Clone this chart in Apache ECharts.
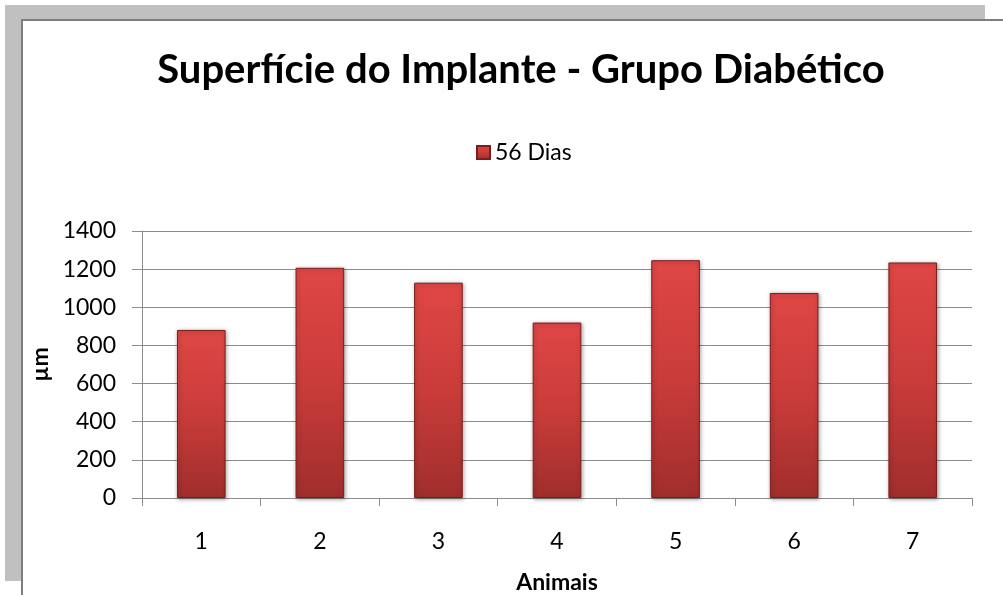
<!DOCTYPE html>
<html>
<head>
<meta charset="utf-8">
<script src="https://cdn.jsdelivr.net/npm/echarts@6/dist/echarts.min.js"></script>
<style>
  html, body { margin: 0; padding: 0; background: #fff; }
  #chart { width: 1003px; height: 595px; }
</style>
</head>
<body>
<div id="chart"></div>
<script>
// data
const animais = ['1', '2', '3', '4', '5', '6', '7'];
const dias56 = [881, 1207, 1129, 920, 1247, 1075, 1235];
const yTicks = { min: 0, max: 1400, step: 200 };

const chart = echarts.init(document.getElementById('chart'));

const barFill = new echarts.graphic.LinearGradient(0, 0, 0, 1, [
  { offset: 0, color: '#df4745' },
  { offset: 0.5, color: '#c93c3a' },
  { offset: 1, color: '#a02e2c' }
]);

const option = {
  animation: false,
  backgroundColor: '#ffffff',
  graphic: [
    // grey frame behind the panel
    { type: 'rect', z: -10, shape: { x: 5, y: 5, width: 980, height: 576 }, style: { fill: '#c0c0c0' } },
    { type: 'rect', z: -9, shape: { x: 22, y: 20, width: 1000, height: 600 },
      style: { fill: '#ffffff', stroke: '#7f7f7f', lineWidth: 2 } }
  ],
  title: {
    text: 'Superfície do Implante - Grupo Diabético',
    left: 516, top: 45, textAlign: 'center',
    textStyle: { fontFamily: 'Lato', fontWeight: 'bold', fontSize: 40, color: '#000' }
  },
  legend: {
    data: ['56 Dias'],
    left: 471, top: 136,
    itemWidth: 13, itemHeight: 13, itemGap: 4,
    icon: 'rect',
    textStyle: { fontFamily: 'Lato', fontSize: 23, color: '#000' }
  },
  grid: { left: 142, right: 31, top: 231, bottom: 94 },
  xAxis: {
    type: 'category',
    data: animais,
    name: 'Animais',
    nameLocation: 'middle',
    nameGap: 73,
    nameTextStyle: { fontFamily: 'Lato', fontWeight: 'bold', fontSize: 23, color: '#000' },
    axisLine: { lineStyle: { color: '#8c8c8c', width: 1 } },
    axisTick: { show: true, length: 8, lineStyle: { color: '#8c8c8c' } },
    axisLabel: { fontFamily: 'Lato', fontSize: 23, color: '#000', margin: 32 }
  },
  yAxis: {
    type: 'value',
    min: yTicks.min, max: yTicks.max, interval: yTicks.step,
    name: 'µm',
    nameLocation: 'middle',
    nameGap: 76,
    nameTextStyle: { fontFamily: 'Lato', fontWeight: 'bold', fontSize: 23, color: '#000' },
    axisLine: { show: true, lineStyle: { color: '#8c8c8c', width: 1 } },
    axisTick: { show: true, length: 10, lineStyle: { color: '#8c8c8c' } },
    axisLabel: { fontFamily: 'Lato', fontSize: 23, color: '#000', margin: 26,
      formatter: function (v) { return String(v); } },
    splitLine: { lineStyle: { color: '#8c8c8c', width: 1 } }
  },
  series: [{
    name: '56 Dias',
    type: 'bar',
    data: dias56,
    barWidth: '41%',
    itemStyle: {
      color: barFill,
      borderColor: '#7a1e1c',
      borderWidth: 1,
      shadowColor: 'rgba(0,0,0,0.35)',
      shadowBlur: 4,
      shadowOffsetX: 1,
      shadowOffsetY: 1
    }
  }]
};

chart.setOption(option);
</script>
</body>
</html>
